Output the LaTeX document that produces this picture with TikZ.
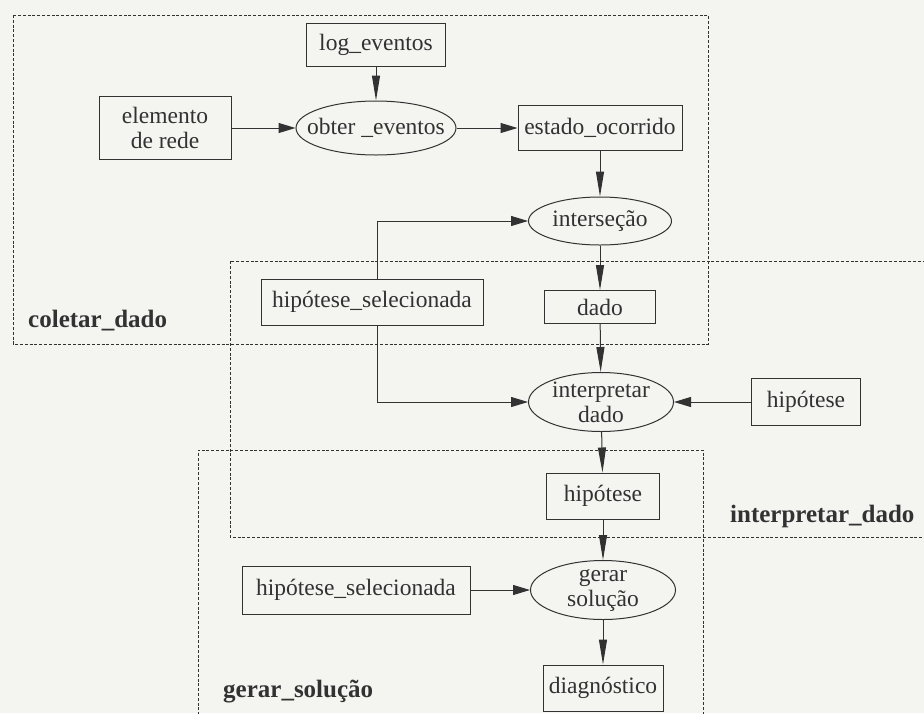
\documentclass[tikz,border=0pt]{standalone}
\usepackage{fontspec}
\setmainfont{Liberation Serif}
\usetikzlibrary{arrows.meta,shapes.geometric}
\definecolor{ink}{RGB}{50,50,50}
\definecolor{paper}{RGB}{244,244,241}
\begin{document}
\begin{tikzpicture}[x=1pt,y=-1pt,
  every node/.style={font=\fontsize{23.5}{25}\selectfont, text=ink},
  box/.style={draw=ink, line width=1pt, rectangle, inner sep=0pt, align=center},
  proc/.style={draw=ink, line width=1pt, ellipse, inner sep=0pt},
  proclabel/.style={align=center, inner sep=0pt},
  flowh/.style={draw=ink, line width=1pt, -{Triangle[length=17pt,width=10pt]}},
  flowv/.style={draw=ink, line width=1pt, -{Triangle[length=25pt,width=8pt]}},
  region/.style={draw=ink, line width=0.9pt, dash pattern=on 3pt off 1.8pt},
  regionlabel/.style={font=\fontsize{25}{27}\selectfont\bfseries, anchor=west, inner sep=0pt}]

\fill[paper] (0,0) rectangle (924,713);
\useasboundingbox (0,0) rectangle (924,713);

% process regions
\draw[region] (13,15) rectangle (708,344);
\draw[region] (940,261) -- (230,261) -- (230,537) -- (940,537);
\draw[region] (198,720) -- (198,450) -- (703,450) -- (703,720);

\node[regionlabel] (lcol) at (28,321) {coletar\_dado};
\node[regionlabel] (lint) at (730,516) {interpretar\_dado};
\node[regionlabel] (lger) at (223,692) {gerar\_solução};

% data stores and processes
\node[box, minimum width=139pt, minimum height=43pt] (log) at (376,45) {log\_eventos};
\node[box, minimum width=132pt, minimum height=63pt] (elem) at (165,128) {elemento\\de rede};
\node[proc, minimum width=160pt, minimum height=54pt,
      label={[proclabel]center:obter \_eventos}] (obter) at (376,128) {};
\node[box, minimum width=164pt, minimum height=45pt] (estado) at (600,128) {estado\_ocorrido};
\node[proc, minimum width=143pt, minimum height=48pt,
      label={[proclabel]center:interseção}] (inters) at (600,221) {};
\node[box, minimum width=222pt, minimum height=46pt] (hipsel1) at (372,302) {hipótese\_selecionada};
\node[box, minimum width=111pt, minimum height=33pt] (dado) at (600,307) {dado};
\node[proc, minimum width=145pt, minimum height=59pt,
      label={[proclabel]center:{interpretar\\dado}}] (interp) at (601,402) {};
\node[box, minimum width=109pt, minimum height=47pt] (hipR) at (806,402) {hipótese};
\node[box, minimum width=113pt, minimum height=46pt] (hipM) at (603,496) {hipótese};
\node[box, minimum width=228pt, minimum height=48pt] (hipsel2) at (356,590) {hipótese\_selecionada};
\node[proc, minimum width=145pt, minimum height=59pt,
      label={[proclabel]center:{gerar\\solução}}] (gerar) at (603,590) {};
\node[box, minimum width=120pt, minimum height=46pt] (diag) at (603,688) {diagnóstico};

% flows
\draw[flowv] (log) -- (obter);
\draw[flowh] (elem) -- (obter);
\draw[flowh] (obter) -- (estado);
\draw[flowv] (estado) -- (inters);
\draw[flowv] (inters) -- (dado);
\draw[flowv] (dado) -- (interp);
\draw[flowh] ([xshift=5pt]hipsel1.north) |- (inters.west);
\draw[flowh] ([xshift=5pt]hipsel1.south) |- (interp.west);
\draw[flowh] (hipR) -- (interp);
\draw[flowv] (interp) -- (hipM);
\draw[flowv] (hipM) -- (gerar);
\draw[flowh] (hipsel2) -- (gerar);
\draw[flowv] (gerar) -- (diag);

\end{tikzpicture}
\end{document}
